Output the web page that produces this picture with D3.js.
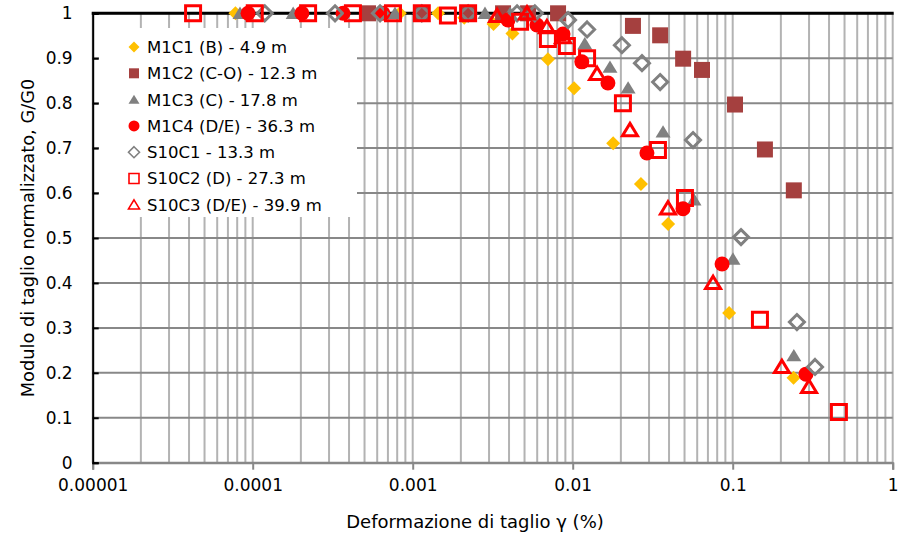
<!DOCTYPE html>
<html lang="it">
<head>
<meta charset="utf-8">
<title>G/G0 - deformazione di taglio</title>
<script src="https://cdn.jsdelivr.net/npm/d3@7"></script>
<style>
  body { margin: 0; background: #fff; }
  text { font-family: "DejaVu Sans", sans-serif; fill: #000; }
</style>
</head>
<body>
<svg width="898" height="536"></svg>
<script>
// ticks
const xTicks = [0.00001, 0.0001, 0.001, 0.01, 0.1, 1];
const xTickLabels = ["0.00001", "0.0001", "0.001", "0.01", "0.1", "1"];
const yTicks = [0, 0.1, 0.2, 0.3, 0.4, 0.5, 0.6, 0.7, 0.8, 0.9, 1];
const yTickLabels = ["0", "0.1", "0.2", "0.3", "0.4", "0.5", "0.6", "0.7", "0.8", "0.9", "1"];

// series: [deformazione %, G/G0]
const m1c1 = [[0.000078, 1], [0.00083, 1], [0.00144, 1], [0.0021, 0.99], [0.0032, 0.976], [0.0042, 0.955],
  [0.007, 0.898], [0.0102, 0.833], [0.0179, 0.711], [0.0267, 0.62], [0.0395, 0.531], [0.095, 0.333], [0.24, 0.189]];
const m1c2 = [[0.000526, 1], [0.00114, 1], [0.00222, 1], [0.00367, 1], [0.00526, 1], [0.0081, 1],
  [0.0238, 0.972], [0.0352, 0.951], [0.049, 0.899], [0.0643, 0.874], [0.1034, 0.797], [0.159, 0.697], [0.241, 0.606]];
const m1c3 = [[0.0000833, 1], [0.000179, 1], [0.000775, 1], [0.00283, 1], [0.00406, 1],
  [0.0119, 0.932], [0.0171, 0.88], [0.0222, 0.834], [0.0367, 0.736], [0.0573, 0.585], [0.1004, 0.453], [0.241, 0.238]];
const m1c4 = [[0.0000935, 1], [0.000203, 1], [0.000367, 1], [0.000652, 1], [0.00394, 0.985], [0.00598, 0.974],
  [0.0087, 0.954], [0.0114, 0.892], [0.0166, 0.845], [0.0291, 0.689], [0.0489, 0.565], [0.0858, 0.442], [0.287, 0.197]];
const s10c1 = [[0.000119, 1], [0.000327, 1], [0.000625, 1], [0.00114, 1], [0.00222, 1], [0.00449, 1], [0.0058, 1],
  [0.00935, 0.985], [0.0123, 0.964], [0.0203, 0.929], [0.0271, 0.889], [0.0352, 0.847], [0.0565, 0.718],
  [0.1127, 0.502], [0.252, 0.313], [0.327, 0.213]];
const s10c2 = [[0.0000424, 1], [0.000103, 1], [0.000222, 1], [0.000423, 1], [0.000753, 1], [0.00114, 1],
  [0.00166, 0.995], [0.00222, 1], [0.00469, 0.981], [0.007, 0.943], [0.0092, 0.927], [0.0123, 0.9],
  [0.0206, 0.8], [0.0341, 0.696], [0.0503, 0.589], [0.148, 0.318], [0.461, 0.113]];
const s10c3 = [[0.00337, 0.994], [0.00518, 1], [0.0069, 0.969], [0.0087, 0.947], [0.0142, 0.865], [0.0228, 0.74],
  [0.0394, 0.566], [0.0754, 0.40], [0.203, 0.213], [0.30, 0.169]];

const seriesNames = ["M1C1 (B) - 4.9 m", "M1C2 (C-O) - 12.3 m", "M1C3 (C) - 17.8 m", "M1C4 (D/E) - 36.3 m",
  "S10C1  - 13.3 m", "S10C2 (D) - 27.3 m", "S10C3 (D/E) - 39.9 m"];
const seriesData = [m1c1, m1c2, m1c3, m1c4, s10c1, s10c2, s10c3];

// marker look for each series
const styles = [
  {shape: "diamond", fill: "#FFC000", stroke: "none", size: 14},
  {shape: "square", fill: "#A5403F", stroke: "none", size: 16},
  {shape: "triangle", fill: "#808080", stroke: "none", size: 15},
  {shape: "circle", fill: "#FF0000", stroke: "none", size: 15},
  {shape: "diamond", fill: "none", stroke: "#808080", size: 15},
  {shape: "square", fill: "none", stroke: "#FF0000", size: 15},
  {shape: "triangle", fill: "none", stroke: "#FF0000", size: 15}
];

const svg = d3.select("svg");
const pLeft = 92.7, pRight = 892.7, pTop = 13.3, pBottom = 462.7;

const x = d3.scaleLog().domain([0.00001, 1]).range([pLeft, pRight]);
const y = d3.scaleLinear().domain([0, 1]).range([pBottom, pTop]);

// marker path, s = full width
function marker(shape, s) {
  const h = s / 2;
  if (shape == "diamond") return `M0,${-h}L${h},0L0,${h}L${-h},0Z`;
  if (shape == "square") return `M${-h},${-h}H${h}V${h}H${-h}Z`;
  if (shape == "triangle") return `M0,${-h * 0.9}L${h},${h * 0.75}L${-h},${h * 0.75}Z`;
  return d3.symbol(d3.symbolCircle, Math.PI * h * h)();
}

// vertical gridlines (every 1..9 of each decade)
const minor = [];
for (let e = -5; e < 0; e++) for (let k = 1; k < 10; k++) minor.push(k * Math.pow(10, e));
minor.push(1);
svg.append("g").selectAll("line").data(minor).join("line")
  .attr("x1", d => x(d)).attr("x2", d => x(d))
  .attr("y1", pTop).attr("y2", pBottom)
  .attr("stroke", "#B3B3B3").attr("stroke-width", 2);

// horizontal gridlines
svg.append("g").selectAll("line").data(yTicks).join("line")
  .attr("x1", pLeft).attr("x2", pRight)
  .attr("y1", d => y(d)).attr("y2", d => y(d))
  .attr("stroke", "#888888").attr("stroke-width", 2);

// x axis
const xAxis = svg.append("g").attr("transform", `translate(0,${pBottom})`)
  .call(d3.axisBottom(x).tickValues(xTicks).tickFormat((d, i) => xTickLabels[i]).tickSize(7).tickPadding(9));
xAxis.select(".domain").attr("stroke", "#888888").attr("stroke-width", 2);
xAxis.selectAll(".tick line").attr("stroke", "#888888").attr("stroke-width", 2);
xAxis.selectAll("text").attr("font-family", "DejaVu Sans").attr("font-size", 17).attr("fill", "#000");

// y axis
const yAxis = svg.append("g").attr("transform", `translate(${pLeft},0)`)
  .call(d3.axisLeft(y).tickValues(yTicks).tickFormat((d, i) => yTickLabels[i]).tickSize(-6).tickPadding(20));
yAxis.select(".domain").attr("stroke", "#000").attr("stroke-width", 2);
yAxis.selectAll(".tick line").attr("stroke", "#000").attr("stroke-width", 2);
yAxis.selectAll("text").attr("font-family", "DejaVu Sans").attr("font-size", 17).attr("fill", "#000");

// top border
svg.append("line").attr("x1", pLeft - 1).attr("x2", pRight + 1).attr("y1", pTop).attr("y2", pTop)
  .attr("stroke", "#000").attr("stroke-width", 3);

// legend box (white, sits above the grid)
const lg = svg.append("g");
lg.append("rect").attr("x", 99).attr("y", 28).attr("width", 258).attr("height", 189).attr("fill", "#fff");
seriesNames.forEach((name, i) => {
  const st = styles[i];
  const cy = 47 + i * 26.3;
  lg.append("path").attr("d", marker(st.shape, st.shape == "square" ? 10 : 11))
    .attr("transform", `translate(134,${cy})`)
    .attr("fill", st.fill).attr("stroke", st.stroke).attr("stroke-width", st.stroke == "none" ? 0 : 1.6);
  lg.append("text").attr("x", 147).attr("y", cy).attr("dy", "0.36em")
    .attr("font-size", 16.5).text(name);
});

// points
seriesData.forEach((pts, i) => {
  const st = styles[i];
  svg.append("g").selectAll("path").data(pts).join("path")
    .attr("d", marker(st.shape, st.size))
    .attr("transform", d => `translate(${x(d[0])},${y(d[1])})`)
    .attr("fill", st.fill).attr("stroke", st.stroke)
    .attr("stroke-width", st.stroke == "none" ? 0 : 3)
    .attr("stroke-linejoin", "miter");
});

// axis titles
svg.append("text").attr("x", 475).attr("y", 522).attr("dy", "0.35em")
  .attr("text-anchor", "middle").attr("font-size", 18).text("Deformazione di taglio γ (%)");
svg.append("text").attr("transform", "translate(28,238) rotate(-90)").attr("dy", "0.35em")
  .attr("text-anchor", "middle").attr("font-size", 17.8).text("Modulo di taglio normalizzato, G/G0");
</script>
</body>
</html>
